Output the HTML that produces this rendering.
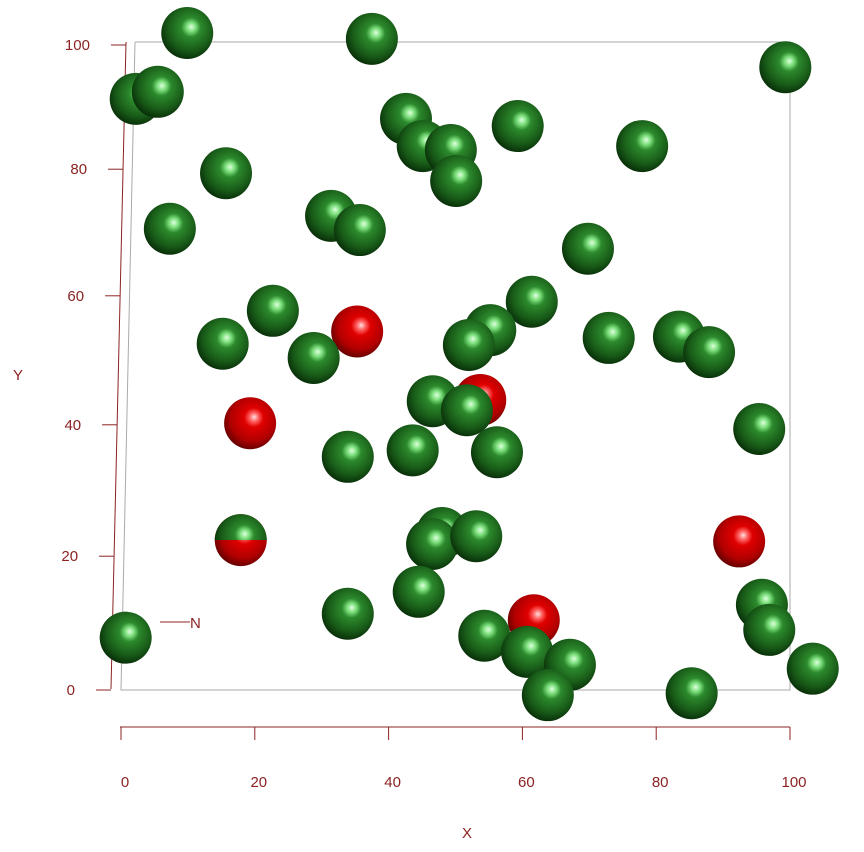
<!DOCTYPE html>
<html><head><meta charset="utf-8"><style>
html,body{margin:0;padding:0;background:#fff}
svg{display:block;font-family:"Liberation Sans",sans-serif}
</style></head><body>
<svg id="chart" width="864" height="852" viewBox="0 0 864 852">
<defs>
<radialGradient id="gG" cx="0.55" cy="0.42" r="0.62" fx="0.58" fy="0.38">
<stop offset="0" stop-color="#e0ffe0"/><stop offset="0.14" stop-color="#7ee07e"/><stop offset="0.3" stop-color="#2c8a2c"/><stop offset="0.7" stop-color="#185a18"/><stop offset="1" stop-color="#062806"/>
</radialGradient>
<radialGradient id="gR" cx="0.55" cy="0.42" r="0.62" fx="0.58" fy="0.38">
<stop offset="0" stop-color="#ffe0e0"/><stop offset="0.14" stop-color="#ff6060"/><stop offset="0.3" stop-color="#e00000"/><stop offset="0.7" stop-color="#b00000"/><stop offset="1" stop-color="#580000"/>
</radialGradient>
<clipPath id="topHalf"><rect x="200" y="500" width="90" height="40"/></clipPath>
</defs>
<g stroke="#aaa" fill="none" stroke-width="1">
<polyline points="135,42 790,42 790,690 121,690 135,42"/>
</g>
<g stroke="#8b2323" stroke-width="1" fill="none">
<line x1="126" y1="42" x2="111" y2="689"/>
</g>
<g stroke="#8b2323" stroke-width="1" fill="none">
<line x1="120" y1="727" x2="790" y2="727"/>
</g>
<g id="ticks"></g>
<g>
<line x1="160" y1="622" x2="190" y2="622" stroke="#8b2323"/>
<text x="190" y="628" font-size="15" fill="#8b2323">N</text>
</g>
<text x="13" y="380" font-size="15" fill="#8b2323">Y</text>
<text x="462" y="838" font-size="15" fill="#8b2323">X</text>
<g id="points"></g>
</svg>
<script>
const xs=[9.9,37.5,99.3,2.2,5.5,42.6,59.3,45.1,49.3,77.9,15.7,50.1,7.3,31.4,35.7,69.8,22.7,35.3,61.4,15.2,28.8,55.2,52.0,72.9,83.4,87.9,53.7,46.6,51.7,19.3,95.4,43.6,33.9,56.2,17.9,92.4,48.0,46.5,53.1,44.5,33.9,95.8,96.9,0.7,61.7,54.3,60.7,67.1,63.8,85.3,103.4];
const ys=[101.7,100.8,96.4,91.5,92.6,88.4,87.3,84.2,83.6,84.2,80.0,78.8,71.4,73.4,71.2,68.3,58.7,55.5,60.1,53.6,51.4,55.7,53.4,54.5,54.7,52.3,44.9,44.7,43.3,41.3,40.4,37.1,36.1,36.8,23.2,23.0,24.3,22.6,23.8,15.2,11.8,13.2,9.3,8.1,10.8,8.4,5.9,3.9,-0.8,-0.5,3.3];
const cls=["g","g","g","g","g","g","g","g","g","g","g","g","g","g","g","g","g","r","g","g","g","g","g","g","g","g","r","g","g","r","g","g","g","g","half","r","g","g","g","g","g","g","g","g","r","g","g","g","g","g","g"];
const xTicks=[0,20,40,60,80,100];
const yTicks=[0,20,40,60,80,100];
const NS="http://www.w3.org/2000/svg";
function sx(v){return 121+v*6.69;}
function sy(v){return 690-v*6.46;}
function tyy(v){return 690-(6.75*v-0.003*v*v);}
function mk(t,a){const e=document.createElementNS(NS,t);for(const k in a)e.setAttribute(k,a[k]);return e;}
const tg=document.getElementById('ticks');
xTicks.forEach(v=>{
 const l=mk('line',{x1:sx(v),y1:727,x2:sx(v),y2:740,stroke:'#8b2323'});
 
 
 tg.appendChild(l);
 const t=mk('text',{x:sx(v)+4,y:787,'font-size':15,fill:'#8b2323','text-anchor':'middle'});
 t.textContent=v;
 
 
 tg.appendChild(t);
});
yTicks.forEach(v=>{
 const py=tyy(v);
 const ax=126-(py-42)*15/647;
 const l=mk('line',{x1:ax-15,y1:py,x2:ax,y2:py,stroke:'#8b2323'});
 
 
 tg.appendChild(l);
 const t=mk('text',{x:ax-36,y:py+5,'font-size':15,fill:'#8b2323','text-anchor':'end'});
 t.textContent=v;
 
 
 tg.appendChild(t);
});
const pg=document.getElementById('points');
xs.forEach((x,i)=>{
 const cx=sx(x),cy=sy(ys[i]);
 const c=cls[i];
 if(c==='half'){
  const r=mk('circle',{cx:cx,cy:cy,r:26,fill:'url(#gR)'});
  
  
  pg.appendChild(r);
  const g=mk('circle',{cx:cx,cy:cy,r:26,fill:'url(#gG)','clip-path':'url(#topHalf)'});
  
  
  pg.appendChild(g);
 } else {
  const e=mk('circle',{cx:cx,cy:cy,r:26,fill:c==='r'?'url(#gR)':'url(#gG)'});
  
  
  pg.appendChild(e);
 }
});
</script>
</body></html>
